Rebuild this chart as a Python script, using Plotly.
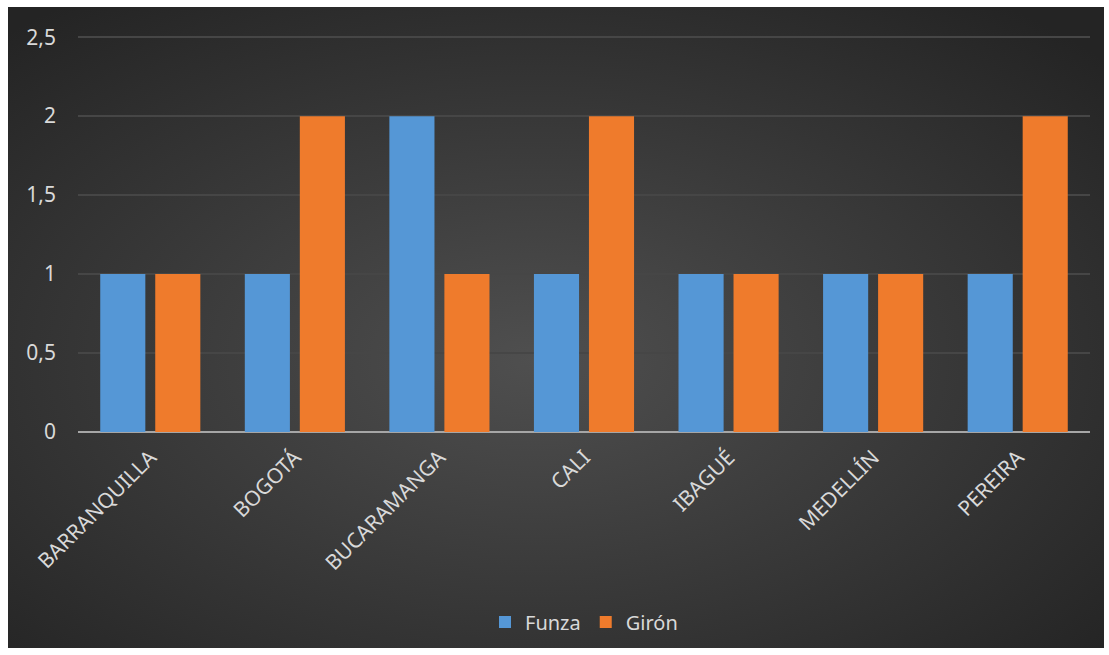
import plotly.graph_objects as go
import urllib.parse

categories = ["BARRANQUILLA", "BOGOTÁ", "BUCARAMANGA", "CALI", "IBAGUÉ", "MEDELLÍN", "PEREIRA"]
funza = [1, 1, 2, 1, 1, 1, 1]
giron = [1, 2, 1, 2, 1, 1, 2]
y_ticks = [0, 0.5, 1, 1.5, 2, 2.5]

W, H = 1109, 655
L, R, T, B = 78, 19, 34, 223
pw, ph = W - L - R, H - T - B

svg = (
    "<svg xmlns='http://www.w3.org/2000/svg' width='1096' height='641' viewBox='0 0 1096 641' preserveAspectRatio='none'>"
    "<defs><radialGradient id='g' cx='48%' cy='55%' r='70%' gradientUnits='objectBoundingBox'>"
    "<stop offset='0' stop-color='#4f4f4f'/><stop offset='1' stop-color='#242424'/>"
    "</radialGradient></defs><rect width='1096' height='641' fill='url(#g)'/></svg>"
)
src = "data:image/svg+xml;charset=utf-8," + urllib.parse.quote(svg)

fig = go.Figure()
fig.add_trace(go.Bar(name="Funza", x=categories, y=funza, marker=dict(color="#5597d6", line=dict(width=0))))
fig.add_trace(go.Bar(name="Girón", x=categories, y=giron, marker=dict(color="#ef7b2c", line=dict(width=0))))

fig.add_layout_image(dict(
    source=src, xref="paper", yref="paper",
    x=(8 - L) / pw, y=(H - B - 7) / ph,
    sizex=1096 / pw, sizey=641 / ph,
    sizing="stretch", layer="below", xanchor="left", yanchor="top",
))

fig.update_layout(
    width=W, height=H,
    margin=dict(l=L, r=R, t=T, b=B),
    paper_bgcolor="white",
    plot_bgcolor="rgba(0,0,0,0)",
    separators=",.",
    barmode="group",
    bargap=0.239,
    bargroupgap=0.18,
    font=dict(family="Noto Sans, Open Sans, sans-serif", color="#d9d9d9"),
    legend=dict(orientation="h", x=0.5, xanchor="center", y=(H - B - 622) / ph, yanchor="middle",
                font=dict(size=20, color="#d9d9d9"), bgcolor="rgba(0,0,0,0)", traceorder="normal",
                itemwidth=30),
    xaxis=dict(tickangle=-45, tickfont=dict(size=21, color="#d9d9d9"), showgrid=False,
               showline=False, ticks="", zeroline=False, ticklabelstandoff=8),
    yaxis=dict(range=[0, 2.52], tickvals=y_ticks, tickfont=dict(size=21, color="#d9d9d9"),
               showgrid=True, gridcolor="#464646", gridwidth=1.5, zeroline=True,
               zerolinecolor="#a6a6a6", zerolinewidth=2, ticks="", ticklabelstandoff=21,
               showline=False),
)

fig.write_html("out.html")
